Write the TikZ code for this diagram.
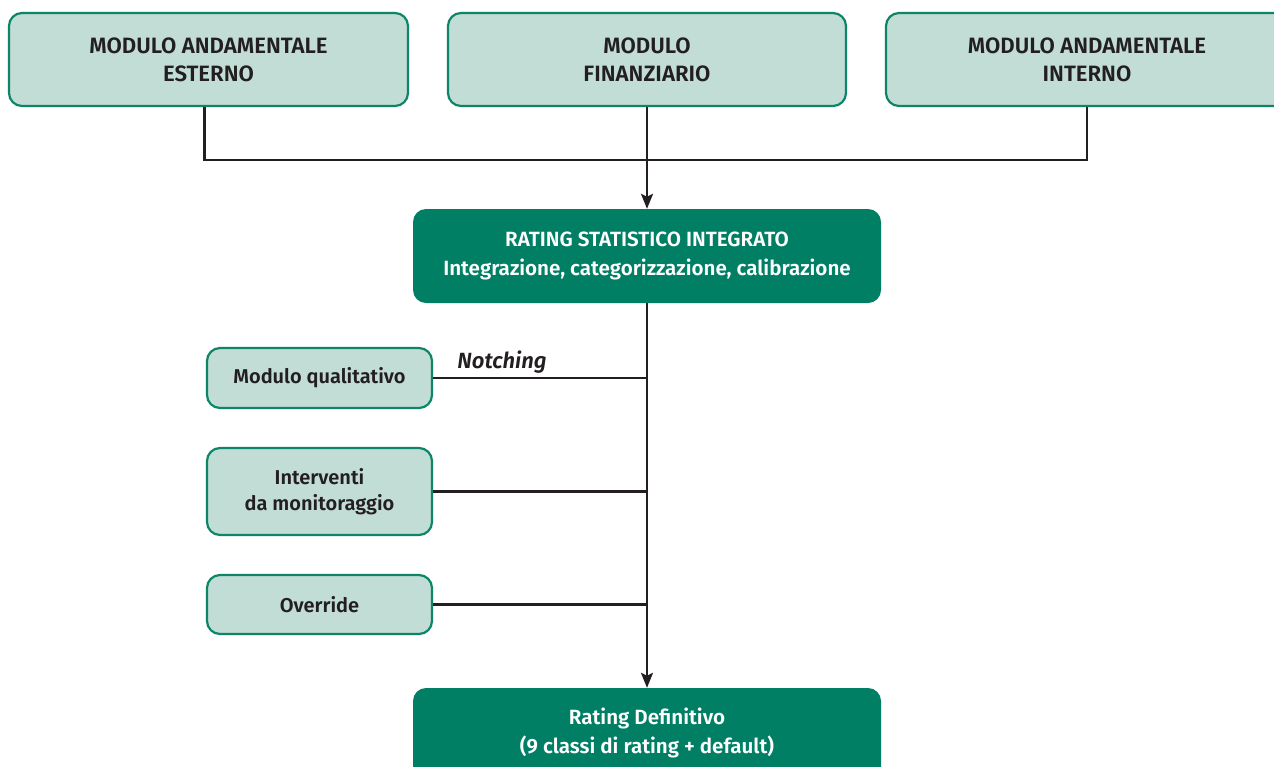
\documentclass[tikz,border=0pt]{standalone}
\usepackage{fontspec}
\setmainfont{Fira Sans}[UprightFont=* SemiBold, ItalicFont=* SemiBold Italic, BoldFont=* Bold]
\usetikzlibrary{arrows.meta,calc}
\definecolor{lightfill}{HTML}{C2DDD6}
\definecolor{boxborder}{HTML}{0E8566}
\definecolor{darkfill}{HTML}{007F65}
\definecolor{ink}{HTML}{231F20}
\begin{document}
\begin{tikzpicture}[x=1pt,y=-1pt,
  lightbox/.style={rectangle, rounded corners=13pt, draw=boxborder, line width=2.2pt, fill=lightfill,
    text=ink, align=center, inner sep=0pt, font=\fontsize{20}{26}\selectfont},
  capbox/.style={lightbox, font=\fontsize{22.2}{28}\selectfont},
  darkbox/.style={rectangle, rounded corners=13pt, fill=darkfill, draw=none,
    text=white, align=center, inner sep=0pt, font=\fontsize{20.6}{29}\selectfont},
  conn/.style={draw=ink, line width=2.4pt},
  arr/.style={conn, -{Stealth[length=15pt,width=12pt,inset=3pt]}}
]
\useasboundingbox (0,0) rectangle (1274,766);
\clip (0,0) rectangle (1274,766);
\fill[white] (0,0) rectangle (1274,766);

\node[capbox, minimum width=399pt, minimum height=93pt] (m1) at (208.5,59.5) {MODULO ANDAMENTALE\\ESTERNO};
\node[capbox, minimum width=398pt, minimum height=93pt] (m2) at (647,59.5) {MODULO\\FINANZIARIO};
\node[capbox, minimum width=402pt, minimum height=93pt] (m3) at (1087,59.5) {MODULO ANDAMENTALE\\INTERNO};

\node[darkbox, minimum width=468pt, minimum height=94pt] (r) at (647,256) {RATING STATISTICO INTEGRATO\\Integrazione, categorizzazione, calibrazione};

\node[lightbox, minimum width=225pt, minimum height=60pt] (q) at (319.5,378) {Modulo qualitativo};
\node[lightbox, minimum width=225pt, minimum height=87pt] (i) at (319.5,491.5) {Interventi\\da monitoraggio};
\node[lightbox, minimum width=225pt, minimum height=59pt] (o) at (319.5,604.5) {Override};

\node[darkbox, minimum width=468pt, minimum height=94pt] (d) at (647,735) {};
\node[text=white, align=center, font=\fontsize{20.6}{29}\selectfont, inner sep=0pt] (dt) at (647,733) {Rating Definitivo\\(9 classi di rating + default)};

\coordinate (j) at (647,160);
\coordinate (m1s) at ($(m1.south)+(-4,0)$);
\draw[conn] (m1s) |- (j);
\draw[conn] (m3.south) |- (j);
\draw[arr] (m2.south) -- (r.north);

\draw[arr] (r.south) -- (d.north);
\draw[conn] (q.east) -- (q.east -| r.south);
\draw[conn] (i.east) -- (i.east -| r.south);
\draw[conn] (o.east) -- (o.east -| r.south);

\node[text=ink, font=\fontsize{22}{24}\selectfont\itshape, inner sep=0pt] (n) at (502,362) {Notching};
\end{tikzpicture}
\end{document}
